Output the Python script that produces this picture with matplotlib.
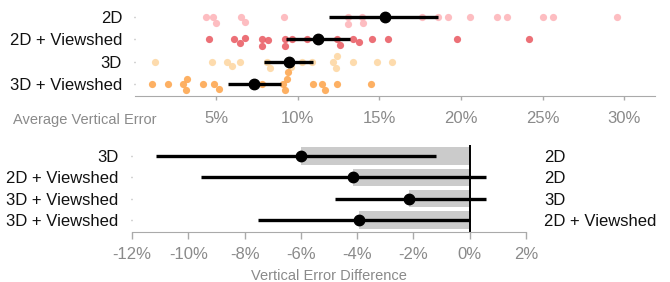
import numpy as np
import matplotlib.pyplot as plt

plt.rcParams['font.family'] = ['Liberation Sans', 'DejaVu Sans']

# top panel: per-participant average vertical error (%)
groups = ['2D', '2D + Viewshed', '3D', '3D + Viewshed']
err_2d = [4.38, 4.79, 4.99, 6.52, 6.77, 9.15, 13.06, 13.06, 14.0, 13.9,
          17.59, 18.57, 19.18, 20.55, 22.18, 22.83, 25.03, 25.65, 29.57]
err_2dv = [4.56, 6.11, 6.46, 6.77, 7.79, 7.79, 8.19, 9.22, 9.22, 9.63,
           10.54, 12.38, 12.58, 13.35, 13.72, 14.54, 15.52, 19.77, 24.17]
err_3d = [1.26, 4.73, 5.65, 5.95, 6.46, 8.13, 8.3, 9.36, 9.56, 10.24,
          10.85, 12.17, 12.34, 12.42, 13.36, 14.83, 15.75]
err_3dv = [1.05, 2.03, 2.95, 3.13, 3.23, 4.21, 4.89, 5.17, 7.79, 9.07,
           9.22, 9.32, 9.4, 10.95, 11.46, 11.67, 12.42, 14.48]
means = [15.34, 11.25, 9.47, 7.3]
ci_lo = [11.9, 9.27, 7.9, 5.73]
ci_hi = [18.6, 13.2, 10.95, 9.0]
colors = ['#fdb6bb', '#ea6168', '#fdd8a4', '#fda852']

# bottom panel: pairwise differences (%)
left_labels = ['3D', '2D + Viewshed', '3D + Viewshed', '3D + Viewshed']
right_labels = ['2D', '2D', '3D', '2D + Viewshed']
diff = [-6.0, -4.16, -2.14, -3.93]
diff_lo = [-11.15, -9.55, -4.79, -7.52]
diff_hi = [-1.2, 0.57, 0.57, 0.0]

W, H = 670, 282
fig = plt.figure(figsize=(W / 100, H / 100), dpi=100)
grey = '#8a8a8a'
fs = 12


def swarm(xpix, d):
    # simple beeswarm: offsets in pixels, closest to centre line
    order = np.argsort(xpix)
    placed = []
    off = np.zeros(len(xpix))
    for i in order:
        x = xpix[i]
        cands = [0.0]
        for (xj, yj) in placed:
            dx = abs(x - xj)
            if dx < d:
                dy = np.sqrt(d * d - dx * dx)
                cands += [yj + dy, yj - dy]
        cands.sort(key=lambda c: (abs(c), c))
        for c in cands:
            if all((x - xj) ** 2 + (c - yj) ** 2 >= d * d - 1e-6 for xj, yj in placed):
                off[i] = c
                placed.append((x, c))
                break
    return off


# ---------- top ----------
ax = fig.add_axes([134.5 / W, 1 - 96 / H, (655 - 134.5) / W, 96 / H])
xmax = 31.87
ymin, ymax = -0.537, 3.76
ax.set_xlim(0, xmax)
ax.set_ylim(ymin, ymax)
pxx = (655 - 134.5) / xmax
pxy = 96 / (ymax - ymin)
data = [err_2d, err_2dv, err_3d, err_3dv]
for k, vals in enumerate(data):
    y0 = 3 - k
    v = np.array(vals)
    off = swarm(v * pxx, 6.6)
    ax.scatter(v, y0 + off / pxy, s=27, color=colors[k], alpha=0.9,
               linewidths=0, zorder=2)
    ax.plot([ci_lo[k], ci_hi[k]], [y0, y0], color='black', lw=2.4,
            solid_capstyle='butt', zorder=3)
    ax.plot(means[k], y0, 'o', color='black', ms=7.5, zorder=4)

ax.set_yticks([3, 2, 1, 0])
ax.set_yticklabels(groups, fontsize=fs, color='#111111')
ax.set_xticks([5, 10, 15, 20, 25, 30])
ax.set_xticklabels(['5%', '10%', '15%', '20%', '25%', '30%'], fontsize=fs, color=grey)
ax.tick_params(axis='y', length=1, width=1, color='#aaaaaa', pad=8)
ax.tick_params(axis='x', length=3, width=1, color='#aaaaaa', pad=8)
for s in ['top', 'right', 'left']:
    ax.spines[s].set_visible(False)
ax.spines['bottom'].set_color('#aaaaaa')
fig.text(13 / W, 1 - 120 / H, 'Average Vertical Error', fontsize=10.5,
         color=grey, va='center', ha='left')

# ---------- bottom ----------
bx = fig.add_axes([132 / W, 1 - 232 / H, (526 - 132) / W, (232 - 145) / H])
bx.set_xlim(-12, 2)
bx.set_ylim(-0.563, 3.516)
for k in range(4):
    y0 = 3 - k
    bx.barh(y0, -diff[k], left=diff[k], height=0.8, color='#cbcbcb', zorder=1)
    bx.plot([diff_lo[k], diff_hi[k]], [y0, y0], color='black', lw=2.4,
            solid_capstyle='butt', zorder=3)
    bx.plot(diff[k], y0, 'o', color='black', ms=7.5, zorder=4)
bx.axvline(0, color='black', lw=1.4, zorder=2)

bx.set_yticks([3, 2, 1, 0])
bx.set_yticklabels(left_labels, fontsize=fs, color='#111111')
xt = [-12, -10, -8, -6, -4, -2, 0, 2]
bx.set_xticks(xt)
bx.set_xticklabels(['%d%%' % t for t in xt], fontsize=fs, color=grey)
bx.tick_params(axis='y', length=1, width=1, color='#aaaaaa', pad=9)
bx.tick_params(axis='x', length=5, width=1, color='#aaaaaa', pad=6)
for s in ['top', 'right', 'left']:
    bx.spines[s].set_visible(False)
bx.spines['bottom'].set_color('#aaaaaa')
bx.set_xlabel('Vertical Error Difference', fontsize=10.5, color=grey, labelpad=5)

rx = bx.twinx()
rx.set_ylim(bx.get_ylim())
rx.set_yticks([3, 2, 1, 0])
rx.set_yticklabels(right_labels, fontsize=fs, color='#111111')
rx.tick_params(axis='y', length=0, pad=13)
for s in rx.spines.values():
    s.set_visible(False)

fig.savefig('out.png', dpi=100)
